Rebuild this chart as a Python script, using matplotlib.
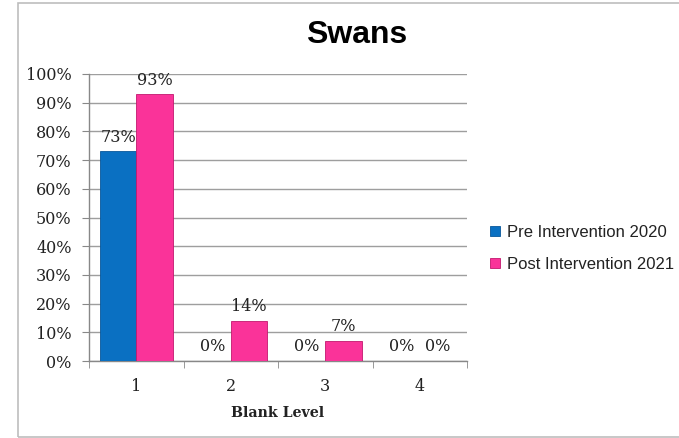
import matplotlib
matplotlib.use("Agg")
import matplotlib.pyplot as plt
from matplotlib.patches import Rectangle
from matplotlib.lines import Line2D
import numpy as np

categories = ["1", "2", "3", "4"]
pre_2020 = [73, 0, 0, 0]
post_2021 = [93, 14, 7, 0]
series_names = ["Pre Intervention 2020", "Post Intervention 2021"]
yticks = [0, 10, 20, 30, 40, 50, 60, 70, 80, 90, 100]

W, H = 679, 438
fig = plt.figure(figsize=(W / 100, H / 100), dpi=100)
fig.patch.set_facecolor("white")

# outer chart frame
fig.add_artist(Rectangle((18 / W, 1 - 437 / H), (W + 5 - 18) / W, (437 - 3) / H,
                         transform=fig.transFigure, fill=False,
                         edgecolor="#BDBDBD", linewidth=1.2))

ax = fig.add_axes([89 / W, 1 - 361 / H, (467 - 89) / W, (361 - 74) / H])

blue = "#0A70C2"
pink = "#FA3399"
x = np.arange(1, len(categories) + 1)
bw = 0.386
ax.bar(x - bw / 2, pre_2020, width=bw, color=blue, edgecolor="#08579A", linewidth=0.6, zorder=3)
ax.bar(x + bw / 2, post_2021, width=bw, color=pink, edgecolor="#C2186E", linewidth=0.6, zorder=3)

serif = "DejaVu Serif"
for xi, v in zip(x - bw / 2, pre_2020):
    ax.annotate(f"{v}%", (xi, v), xytext=(0, 4), textcoords="offset points",
                ha="center", va="bottom", fontsize=11.5, family=serif, color="#222222")
for xi, v in zip(x + bw / 2, post_2021):
    ax.annotate(f"{v}%", (xi, v), xytext=(0, 4), textcoords="offset points",
                ha="center", va="bottom", fontsize=11.5, family=serif, color="#222222")

ax.set_xlim(0.5, len(categories) + 0.5)
ax.set_ylim(0, 100)
ax.set_yticks(yticks)
ax.set_yticklabels([f"{t}%" for t in yticks], family=serif, fontsize=11.5, color="#222222")
ax.set_xticks(x)
ax.set_xticklabels(categories, family=serif, fontsize=11.5, color="#222222")
ax.set_xticks(np.arange(0.5, len(categories) + 1, 1), minor=True)
ax.tick_params(axis="x", which="major", length=0, pad=12)
ax.tick_params(axis="x", which="minor", length=5, color="#888888", direction="out")
ax.tick_params(axis="y", length=5, color="#888888", direction="out", pad=7.5)
ax.grid(axis="y", color="#9E9E9E", linewidth=1.0, zorder=0)
ax.set_axisbelow(True)
for s in ["top", "right"]:
    ax.spines[s].set_visible(False)
for s in ["left", "bottom"]:
    ax.spines[s].set_color("#888888")
    ax.spines[s].set_linewidth(1.0)

ax.set_xlabel("Blank Level", family=serif, fontweight="bold", fontsize=10.2, labelpad=8, color="#222222")

fig.text(357 / W, 1 - 35 / H, "Swans", ha="center", va="center",
         family="Liberation Sans", fontweight="bold", fontsize=23, color="black")

handles = [Line2D([], [], marker="s", linestyle="none", markersize=7,
                  markerfacecolor=c, markeredgecolor=e, markeredgewidth=0.6)
           for c, e in [(blue, "#08579A"), (pink, "#C2186E")]]
leg = fig.legend(handles, series_names, loc="upper left",
                 bbox_to_anchor=(490 / W, 1 - 225 / H), frameon=False,
                 prop={"family": "Liberation Sans", "size": 12},
                 handlelength=0.6, handletextpad=0.4, labelspacing=1.0,
                 borderaxespad=0, borderpad=0)
for t in leg.get_texts():
    t.set_color("#222222")

fig.savefig("out.png", dpi=100, facecolor="white")
